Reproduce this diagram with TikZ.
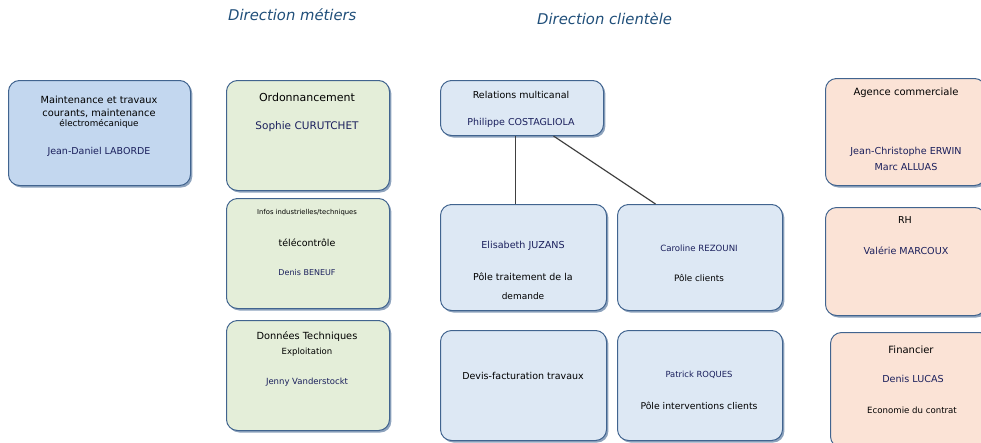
\documentclass[tikz,border=0pt]{standalone}
\usepackage{fontspec}
\setmainfont{DejaVu Sans}
\usetikzlibrary{shadows}
\definecolor{bord}{HTML}{41648F}
\definecolor{shad}{HTML}{8EA3BD}
\definecolor{fblue}{HTML}{C3D7EF}
\definecolor{fgreen}{HTML}{E4EED9}
\definecolor{flight}{HTML}{DDE8F4}
\definecolor{forange}{HTML}{FBE3D6}
\definecolor{navy}{HTML}{1A1F5C}
\definecolor{ttl}{HTML}{1F4E79}
\tikzset{
  boxbase/.style={draw=bord, line width=1pt, rounded corners=11pt, inner sep=0pt,
    drop shadow={shadow xshift=1.8pt, shadow yshift=-2pt, fill=shad, opacity=1}},
  bx/.style n args={4}{boxbase, minimum width=#3pt, minimum height=#4pt, anchor=north west},
  fs/.style={font=\fontsize{#1}{#1}\selectfont, inner sep=0pt},
  hd/.style={fs=#1, text=black},
  nm/.style={fs=#1, text=navy},
  ttlst/.style={font=\fontsize{14.8}{16}\selectfont\itshape, text=ttl, anchor=west, inner sep=0pt},
  conn/.style={draw=black!75, line width=1.2pt}
}
\begin{document}
\begin{tikzpicture}[x=1pt,y=-1pt]
\useasboundingbox (0,0) rectangle (981,442);
\node[ttlst] (t1) at (228,15) {Direction métiers};
\node[ttlst] (t2) at (537,19) {Direction clientèle};
% left
\node[bx={}{}{182}{105}, fill=fblue] (b1) at (8,80) {};
\node[hd=9.8] (b1a) at (99,100) {Maintenance et travaux};
\node[hd=9.8] (b1b) at (99,113) {courants, maintenance};
\node[hd=8.8] (b1c) at (99,124) {électromécanique};
\node[nm=9.5] (b1d) at (99,152) {Jean-Daniel LABORDE};
% green
\node[bx={}{}{163}{110}, fill=fgreen] (g1) at (226,80) {};
\node[hd=11] (g1a) at (307,97) {Ordonnancement};
\node[nm=10.5] (g1b) at (307,127) {Sophie CURUTCHET};
\node[bx={}{}{163}{110}, fill=fgreen] (g2) at (226,198) {};
\node[hd=6.8] (g2a) at (307,213) {Infos industrielles/techniques};
\node[hd=9.5] (g2b) at (307,243) {télécontrôle};
\node[nm=8] (g2c) at (307,273) {Denis BENEUF};
\node[bx={}{}{163}{110}, fill=fgreen] (g3) at (226,320) {};
\node[hd=9.8] (g3a) at (307,337) {Données Techniques};
\node[hd=8.5] (g3b) at (307,352) {Exploitation};
\node[nm=8.5] (g3c) at (307,382) {Jenny Vanderstockt};
% client
\node[bx={}{}{163}{55}, fill=flight] (rel) at (440,80) {};
\node[hd=9.5] (rela) at (521,95) {Relations multicanal};
\node[nm=9.5] (relb) at (521,123) {Philippe COSTAGLIOLA};
\node[bx={}{}{166}{106}, fill=flight] (eli) at (440,204) {};
\node[nm=9.6] (elia) at (523,246) {Elisabeth JUZANS};
\node[hd=9.5] (elib) at (523,277) {Pôle traitement de la};
\node[hd=9] (elic) at (523,296) {demande};
\node[bx={}{}{165}{106}, fill=flight] (car) at (617,204) {};
\node[nm=8.6] (cara) at (699,248) {Caroline REZOUNI};
\node[hd=8.8] (carb) at (699,278) {Pôle clients};
\node[bx={}{}{166}{110}, fill=flight] (dev) at (440,330) {};
\node[hd=9.5] (deva) at (523,376) {Devis-facturation travaux};
\node[bx={}{}{165}{110}, fill=flight] (pat) at (617,330) {};
\node[nm=8.4] (pata) at (699,375) {Patrick ROQUES};
\node[hd=9.3] (patb) at (699,406) {Pôle interventions clients};
% orange
\node[bx={}{}{160}{107}, fill=forange] (o1) at (825,78) {};
\node[hd=10] (o1a) at (906,93) {Agence commerciale};
\node[nm=9.6] (o1b) at (906,152) {Jean-Christophe ERWIN};
\node[nm=9.6] (o1c) at (906,167) {Marc ALLUAS};
\node[bx={}{}{160}{108}, fill=forange] (o2) at (825,207) {};
\node[hd=9.5] (o2a) at (905,220) {RH};
\node[nm=9.6] (o2b) at (906,251) {Valérie MARCOUX};
\node[bx={}{}{160}{115}, fill=forange] (o3) at (830,332) {};
\node[hd=10] (o3a) at (911,350) {Financier};
\node[nm=9.6] (o3b) at (913,379) {Denis LUCAS};
\node[hd=8.6] (o3c) at (912,410) {Economie du contrat};
% connectors
\draw[conn] ([xshift=-6.5pt]rel.south) -- ([xshift=-8pt]eli.north);
\draw[conn] ([xshift=31.5pt]rel.south) -- ([xshift=-44.5pt]car.north);
\end{tikzpicture}
\end{document}
